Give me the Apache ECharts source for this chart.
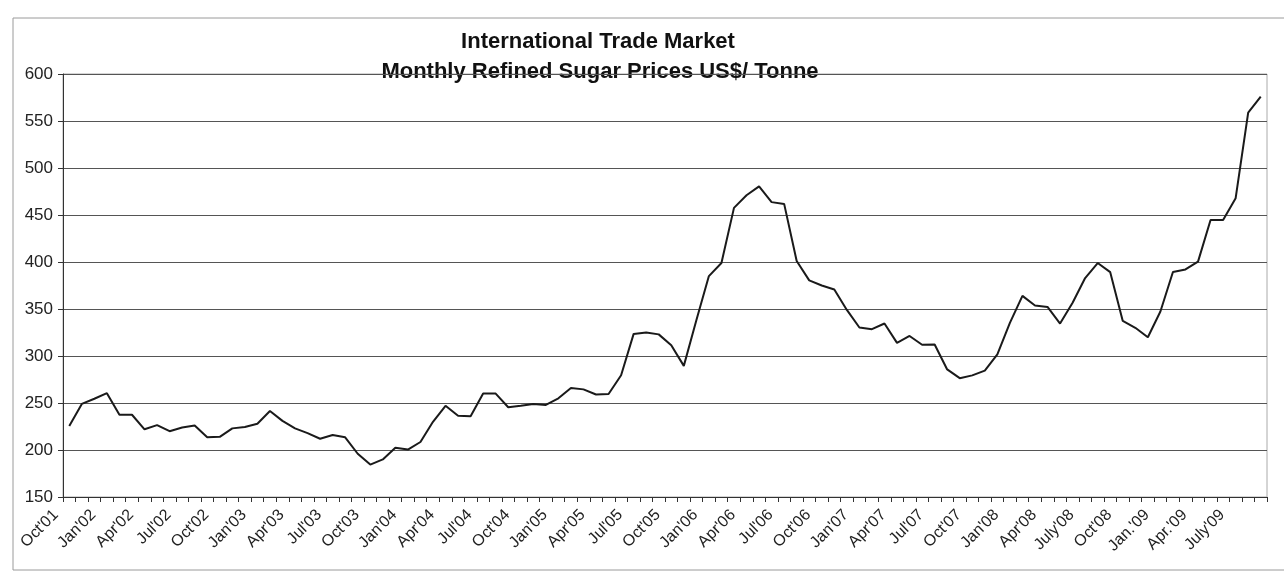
<!DOCTYPE html>
<html>
<head>
<meta charset="utf-8">
<script src="https://cdn.jsdelivr.net/npm/echarts@6/dist/echarts.min.js"></script>
<style>
html,body{margin:0;padding:0;background:#fff;}
#chart{width:1284px;height:577px;}
</style>
</head>
<body>
<div id="chart"></div>
<script>
var categories = [
"Oct'01","Nov'01","Dec'01","Jan'02","Feb'02","Mar'02","Apr'02","May'02","Jun'02","Jul'02","Aug'02","Sep'02",
"Oct'02","Nov'02","Dec'02","Jan'03","Feb'03","Mar'03","Apr'03","May'03","Jun'03","Jul'03","Aug'03","Sep'03",
"Oct'03","Nov'03","Dec'03","Jan'04","Feb'04","Mar'04","Apr'04","May'04","Jun'04","Jul'04","Aug'04","Sep'04",
"Oct'04","Nov'04","Dec'04","Jan'05","Feb'05","Mar'05","Apr'05","May'05","Jun'05","Jul'05","Aug'05","Sep'05",
"Oct'05","Nov'05","Dec'05","Jan'06","Feb'06","Mar'06","Apr'06","May'06","Jun'06","Jul'06","Aug'06","Sep'06",
"Oct'06","Nov'06","Dec'06","Jan'07","Feb'07","Mar'07","Apr'07","May'07","Jun'07","Jul'07","Aug'07","Sep'07",
"Oct'07","Nov'07","Dec'07","Jan'08","Feb'08","Mar'08","Apr'08","May'08","Jun'08","July'08","Aug'08","Sep'08",
"Oct'08","Nov'08","Dec'08","Jan.'09","Feb'09","Mar'09","Apr.'09","May'09","Jun'09","July'09","Aug'09","Sep'09"
];

var prices = [
225.5,249,254.5,260.5,237.5,237.5,222,226.5,220,224,226,213.5,
214,223,224.5,228,241.5,231,223,218,212,216,213.5,196,
184.5,190,202.5,200.5,208.5,230,247,236.5,236,260,260,245.5,
247,249,248,255,266,264.5,259,259.5,279.5,323.5,325,323,
311.5,289.5,338,385,399,457.6,471,480.5,463.7,461.8,401,380.5,
375,370.7,349,330.3,328.5,334.6,314,321.3,312,312.3,285.7,276.4,
279.4,284.5,301.7,335.3,364,353.7,352.2,334.5,356.6,382.9,398.9,389.2,
337.3,330,320,347.4,389.4,392.1,400.4,444.6,444.8,467.9,559,576
];

var titleLines = ["International Trade Market", "Monthly Refined Sugar Prices US$/ Tonne"];
var yMin = 150, yMax = 600, yStep = 50;

var chart = echarts.init(document.getElementById('chart'), null, {renderer: 'canvas'});
var font = "'Liberation Sans', Arial, sans-serif";
chart.setOption({
  backgroundColor: '#ffffff',
  animation: false,
  graphic: [
    {type: 'rect', shape: {x: 13, y: 18, width: 1300, height: 552}, style: {fill: 'none', stroke: '#9a9a9a', lineWidth: 1}, z: -1},
    {type: 'text', x: 598, y: 42, style: {text: titleLines[0], font: 'bold 22px ' + font, fill: '#111', align: 'center', verticalAlign: 'middle'}},
    {type: 'text', x: 600, y: 72, style: {text: titleLines[1], font: 'bold 22px ' + font, fill: '#111', align: 'center', verticalAlign: 'middle'}}
  ],
  grid: {left: 63, right: 17, top: 74, bottom: 80, show: true, borderColor: '#aaaaaa', borderWidth: 1},
  xAxis: {
    type: 'category',
    data: categories,
    boundaryGap: true,
    axisLine: {lineStyle: {color: '#333', width: 1}},
    axisTick: {show: true, interval: 0, length: 5, lineStyle: {color: '#333'}},
    axisLabel: {interval: 2, rotate: 45, fontSize: 16, color: '#222', fontFamily: font, margin: 2, padding: [0, 19, 0, 0]},
    splitLine: {show: false}
  },
  yAxis: {
    type: 'value',
    min: yMin, max: yMax, interval: yStep,
    axisLine: {show: true, lineStyle: {color: '#333', width: 1}},
    axisTick: {show: true, length: 5, lineStyle: {color: '#333'}},
    axisLabel: {fontSize: 17, color: '#222', fontFamily: font, margin: 10},
    splitLine: {show: true, lineStyle: {color: '#555', width: 1}}
  },
  series: [{
    type: 'line',
    data: prices,
    symbol: 'none',
    lineStyle: {color: '#1a1a1a', width: 2},
    itemStyle: {color: '#1a1a1a'}
  }]
});
</script>
</body>
</html>
